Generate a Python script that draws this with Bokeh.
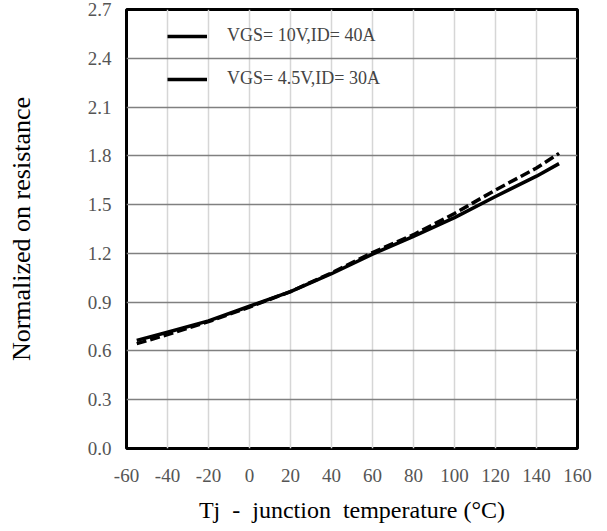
from bokeh.plotting import figure
from bokeh.models import FixedTicker, PrintfTickFormatter, Legend, LegendItem, Range1d
from bokeh.embed import file_html
from bokeh.resources import INLINE

# Data
temps = [-55, -40, -20, 0, 20, 40, 60, 80, 100, 120, 140, 151]
r_10v = [0.665, 0.715, 0.785, 0.875, 0.965, 1.075, 1.195, 1.305, 1.420, 1.550, 1.675, 1.752]
r_45v = [0.645, 0.700, 0.780, 0.870, 0.965, 1.080, 1.205, 1.315, 1.445, 1.590, 1.725, 1.815]
labels = ["VGS= 10V,ID= 40A", "VGS= 4.5V,ID= 30A"]
x_ticks = [-60, -40, -20, 0, 20, 40, 60, 80, 100, 120, 140, 160]
y_ticks = [0.0, 0.3, 0.6, 0.9, 1.2, 1.5, 1.8, 2.1, 2.4, 2.7]

FONT = "Liberation Serif"

p = figure(width=600, height=525, output_backend="svg", toolbar_location=None,
           x_range=Range1d(-60, 160), y_range=Range1d(0, 2.7),
           min_border_left=126, min_border_right=23, min_border_top=9, min_border_bottom=75)

p.outline_line_color = "black"
p.outline_line_width = 3
p.background_fill_color = "white"
p.border_fill_color = "white"

p.xaxis.ticker = FixedTicker(ticks=x_ticks)
p.xaxis.major_label_overrides = {t: str(t) for t in x_ticks}
p.yaxis.ticker = FixedTicker(ticks=y_ticks)
p.yaxis.formatter = PrintfTickFormatter(format="%.1f")
for ax in (p.xaxis[0], p.yaxis[0]):
    ax.axis_line_color = None
    ax.major_tick_line_color = None
    ax.minor_tick_line_color = None
    ax.major_label_text_font = FONT
    ax.major_label_text_font_size = "19px"
    ax.major_label_text_color = "#555555"
    ax.axis_label_text_font = FONT
    ax.axis_label_text_font_style = "normal"
    ax.axis_label_text_color = "black"
p.xaxis.axis_label_text_font_size = "24px"
p.yaxis.axis_label_text_font_size = "26px"
p.xaxis.major_label_standoff = 14
p.yaxis.major_label_standoff = 9
p.xaxis.axis_label = "Tj \u00a0-\u00a0 junction \u00a0temperature (\u00b0C)"
p.yaxis.axis_label = "Normalized on resistance"
p.xaxis.axis_label_standoff = 12
p.yaxis.axis_label_standoff = 49

p.xgrid.grid_line_color = "#d6d6d6"
p.xgrid.grid_line_width = 1.5
p.ygrid.grid_line_color = "#808080"
p.ygrid.grid_line_width = 1.5

solid = p.line(temps, r_10v, line_color="black", line_width=3.5, line_join="round")
p.line(temps, r_45v, line_color="black", line_width=3.5, line_dash="10 4", line_join="round")

# legend samples are drawn solid in the reference for both entries
legend = Legend(items=[LegendItem(label=labels[0], renderers=[solid]),
                       LegendItem(label=labels[1], renderers=[solid])],
                location=(41, 359), border_line_color=None, background_fill_alpha=0,
                label_text_font=FONT, label_text_font_size="18px",
                glyph_width=40, glyph_height=20, label_height=20,
                spacing=22, label_standoff=20, padding=8, margin=0)
p.add_layout(legend)

open("out.html", "w").write(file_html(p, INLINE))
